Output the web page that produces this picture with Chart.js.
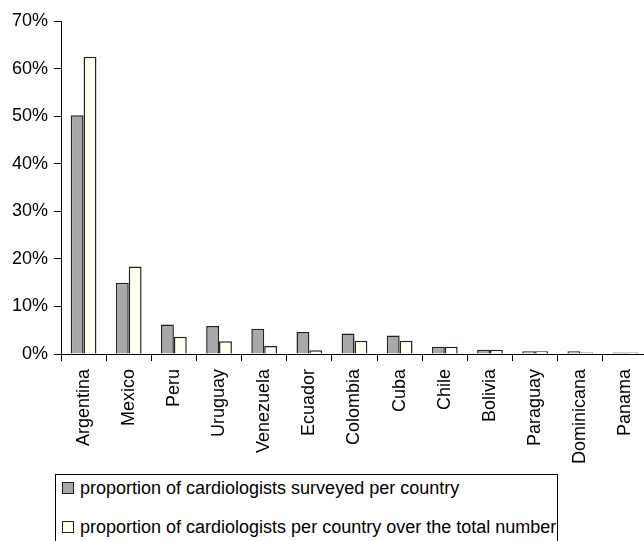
<!DOCTYPE html>
<html>
<head>
<meta charset="utf-8">
<script src="https://cdn.jsdelivr.net/npm/chart.js@4/dist/chart.umd.min.js"></script>
<style>
  html, body { margin: 0; padding: 0; background: #fff; overflow: hidden; }
  #wrap { position: relative; width: 644px; height: 541px; overflow: hidden; }
  #chart { position: absolute; left: 0; top: 0; }
  #legend {
    position: absolute; left: 55px; top: 474px; width: 501px; height: 90px;
    border: 1px solid #000; font-family: 'Liberation Sans', Arial, sans-serif;
    font-size: 18px; color: #000;
  }
  .row { position: absolute; left: 6px; white-space: nowrap; line-height: 18px; }
  .box { display: inline-block; width: 10px; height: 10px; border: 1px solid #222; margin-right: 6px; vertical-align: 0px; }
</style>
</head>
<body>
<div id="wrap">
  <canvas id="chart" width="658" height="474"></canvas>
  <div id="legend">
    <div class="row" style="top:4px"><span class="box" style="background:#a8a8a8"></span>proportion of cardiologists surveyed per country</div>
    <div class="row" style="top:43px"><span class="box" style="background:#fffff0"></span>proportion of cardiologists per country over the total number</div>
  </div>
</div>
<script>
// Countries and proportions (%)
const countries = ['Argentina', 'Mexico', 'Peru', 'Uruguay', 'Venezuela', 'Ecuador', 'Colombia', 'Cuba', 'Chile', 'Bolivia', 'Paraguay', 'Dominicana', 'Panama'];
const surveyed = [50.2, 15.0, 6.2, 5.9, 5.3, 4.6, 4.3, 3.9, 1.5, 0.9, 0.6, 0.6, 0.3];
const overTotal = [62.5, 18.4, 3.6, 2.7, 1.7, 0.8, 2.8, 2.8, 1.5, 0.9, 0.6, 0.3, 0.3];
const yTicks = [0, 10, 20, 30, 40, 50, 60, 70];

const font = { family: "'Liberation Sans', Arial, sans-serif", size: 18 };

new Chart(document.getElementById('chart'), {
  type: 'bar',
  data: {
    labels: countries,
    datasets: [{
      label: 'proportion of cardiologists surveyed per country',
      data: surveyed,
      backgroundColor: '#a8a8a8',
      borderColor: '#222',
      borderWidth: 1.5,
      categoryPercentage: 0.57,
      barPercentage: 1,
    }, {
      label: 'proportion of cardiologists per country over the total number',
      data: overTotal,
      backgroundColor: '#fffff0',
      borderColor: '#222',
      borderWidth: 1.5,
      categoryPercentage: 0.57,
      barPercentage: 1,
    }]
  },
  options: {
    responsive: false,
    animation: false,
    devicePixelRatio: 1,
    layout: { padding: { top: 21, right: 10, left: 0, bottom: 0 } },
    plugins: { legend: { display: false }, tooltip: { enabled: false } },
    scales: {
      x: {
        grid: { display: true, drawOnChartArea: false, offset: true, tickLength: 7, color: '#000' },
        border: { color: '#000', width: 1 },
        ticks: { minRotation: 90, maxRotation: 90, autoSkip: false, color: '#000', font: font, padding: 8 },
        afterFit: s => { s.height = 120; }
      },
      y: {
        min: 0,
        max: 70,
        afterBuildTicks: s => { s.ticks = yTicks.map(v => ({ value: v })); },
        grid: { drawOnChartArea: false, tickLength: 7, color: '#000' },
        border: { color: '#000', width: 1 },
        ticks: { callback: v => v + '%', color: '#000', font: font, padding: 6 },
        afterFit: s => { s.width = 61; }
      }
    }
  }
});
</script>
</body>
</html>
